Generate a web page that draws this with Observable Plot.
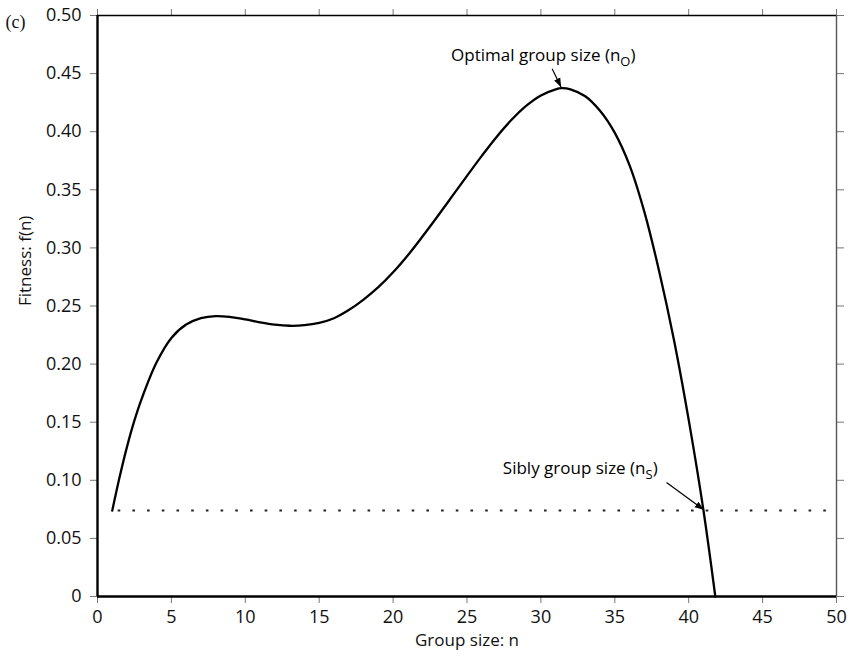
<!DOCTYPE html>
<html><head><meta charset="utf-8">
<script src="https://cdn.jsdelivr.net/npm/d3@7"></script>
<script src="https://cdn.jsdelivr.net/npm/@observablehq/plot@0.6"></script>
<style>body{margin:0;background:#fff}</style>
</head><body><div id="chart"></div>
<script>
// Fitness curve f(n)
const groupSize = [1, 1.5, 2, 2.5, 3, 4, 5, 6, 7, 8, 9, 10, 11, 12, 13, 14, 15, 16, 17, 18, 19, 20, 21, 22, 23, 24, 25, 26, 27, 28, 29, 30, 31, 31.4, 32, 33, 34, 35, 36, 37, 38, 39, 40, 41, 41.8];
const fitness   = [0.074, 0.103, 0.129, 0.1515, 0.1705, 0.2015, 0.2225, 0.234, 0.2395, 0.2413, 0.2405, 0.2385, 0.236, 0.234, 0.233, 0.2335, 0.2355, 0.2395, 0.2465, 0.2555, 0.2662, 0.279, 0.2937, 0.31, 0.327, 0.3445, 0.362, 0.3792, 0.3955, 0.41, 0.4222, 0.4312, 0.4365, 0.4375, 0.4365, 0.4305, 0.418, 0.399, 0.371, 0.331, 0.280, 0.221, 0.152, 0.074, 0.0];

const xDomain = [0, 50];
const yDomain = [0, 0.5];
const xTicks = [0, 5, 10, 15, 20, 25, 30, 35, 40, 45, 50];
const xTickLabels = ["0", "5", "10", "15", "20", "25", "30", "35", "40", "45", "50"];
const yTicks = [0, 0.05, 0.1, 0.15, 0.2, 0.25, 0.3, 0.35, 0.4, 0.45, 0.5];
const yTickLabels = ["0", "0.05", "0.10", "0.15", "0.20", "0.25", "0.30", "0.35", "0.40", "0.45", "0.50"];

// Sibly level (dotted line) f(1)
const siblyLevel = [0.074];
const siblyFrom = [1];
const siblyTo = [50];

// Annotations
const annotationText = ["Optimal group size (n", "Sibly group size (n"];
const annotationSub = ["O", "S"];
const annotationX = [36.4, 37.9];
const annotationY = [0.4655, 0.1105];
const arrowX1 = [30.76, 38.5];
const arrowY1 = [0.4541, 0.0981];
const arrowX2 = [31.37, 41.02];
const arrowY2 = [0.4383, 0.0746];

const panelLabel = ["(c)"];
const xTitle = ["Group size: n"];
const yTitle = ["Fitness: f(n)"];

const curve = groupSize.map((n, i) => ({n, f: fitness[i]}));
const sibly = siblyLevel.map((y, i) => ({y, x1: siblyFrom[i], x2: siblyTo[i]}));
const notes = annotationText.map((t, i) => ({
  text: t + "_" + annotationSub[i] + ")", x: annotationX[i], y: annotationY[i],
  x1: arrowX1[i], y1: arrowY1[i], x2: arrowX2[i], y2: arrowY2[i]
}));

const plot = Plot.plot({
  width: 851,
  height: 656,
  marginLeft: 97,
  marginRight: 15,
  marginTop: 15,
  marginBottom: 60,
  style: {fontFamily: "'Open Sans', sans-serif", fontSize: "17px", color: "#111", background: "#fff", overflow: "visible"},
  x: {domain: xDomain},
  y: {domain: yDomain},
  marks: [
    Plot.axisX({anchor: "bottom", ticks: xTicks, tickSize: 7, tickPadding: 7, stroke: "#777", fill: "#111", fontSize: 18,
      tickFormat: d => xTickLabels[xTicks.indexOf(d)], label: null}),
    Plot.axisX({anchor: "top", ticks: xTicks, tickSize: 7, stroke: "#777", tickFormat: () => "", label: null}),
    Plot.axisY({anchor: "left", ticks: yTicks, tickSize: 7, tickPadding: 9, stroke: "#777", fill: "#111", fontSize: 18,
      tickFormat: d => yTickLabels[yTicks.indexOf(d)], label: null}),
    Plot.axisY({anchor: "right", ticks: yTicks, tickSize: 7, stroke: "#777", tickFormat: () => "", label: null}),
    Plot.ruleY(sibly, {y: "y", x1: "x1", x2: "x2", stroke: "#222", strokeWidth: 1.8, strokeDasharray: "2.6,12.1", strokeDashoffset: 8.8}),
    Plot.line(curve, {x: "n", y: "f", curve: "catmull-rom", stroke: "#000", strokeWidth: 2.3}),
    Plot.link(notes, {x1: "x1", y1: "y1", x2: "x2", y2: "y2", stroke: "#000", strokeWidth: 1.2, markerEnd: "arrow"}),
    Plot.text(notes, {x: "x", y: "y", text: "text", textAnchor: "end", fill: "#000", fontSize: 17}),
    Plot.ruleX([xDomain[0]], {stroke: "#000", strokeWidth: 2.4}),
    Plot.ruleY([yDomain[0]], {stroke: "#000", strokeWidth: 2.6}),
    Plot.ruleY([yDomain[1]], {stroke: "#000", strokeWidth: 1.4}),
    Plot.ruleX([xDomain[1]], {stroke: "#555", strokeWidth: 1.4}),
    Plot.text(xTitle, {frameAnchor: "bottom", dy: 49, fill: "#111", fontSize: 17}),
    Plot.text(yTitle, {frameAnchor: "left", dx: -72, rotate: -90, fill: "#111", fontSize: 17}),
    Plot.text(panelLabel, {frameAnchor: "top-left", dx: -92, textAnchor: "start", fontFamily: "'Liberation Serif', serif", fill: "#111", fontSize: 18})
  ]
});

// Filled arrowheads
plot.querySelectorAll("marker").forEach(mk => {
  const ns = "http://www.w3.org/2000/svg";
  mk.setAttribute("viewBox", "-9 -4 10 8");
  mk.setAttribute("refX", "0");
  mk.setAttribute("refY", "0");
  mk.setAttribute("markerUnits", "userSpaceOnUse");
  mk.setAttribute("markerWidth", "10");
  mk.setAttribute("markerHeight", "8");
  mk.setAttribute("orient", "auto");
  mk.replaceChildren();
  const p = document.createElementNS(ns, "path");
  p.setAttribute("d", "M-9,-3.4L0,0L-9,3.4Z");
  p.setAttribute("fill", "#000");
  p.setAttribute("stroke", "none");
  mk.append(p);
});

// Render subscripts as tspans
plot.querySelectorAll("text").forEach(t => {
  const m = t.textContent.match(/^(.*\(n)_(\w)\)$/);
  if (!m) return;
  t.textContent = "";
  const ns = "http://www.w3.org/2000/svg";
  const a = document.createElementNS(ns, "tspan"); a.textContent = m[1];
  const b = document.createElementNS(ns, "tspan"); b.textContent = m[2];
  b.setAttribute("dy", "5"); b.setAttribute("font-size", "13");
  const c = document.createElementNS(ns, "tspan"); c.textContent = ")";
  c.setAttribute("dy", "-5");
  t.append(a, b, c);
});

document.getElementById("chart").append(plot);
</script>
</body></html>
